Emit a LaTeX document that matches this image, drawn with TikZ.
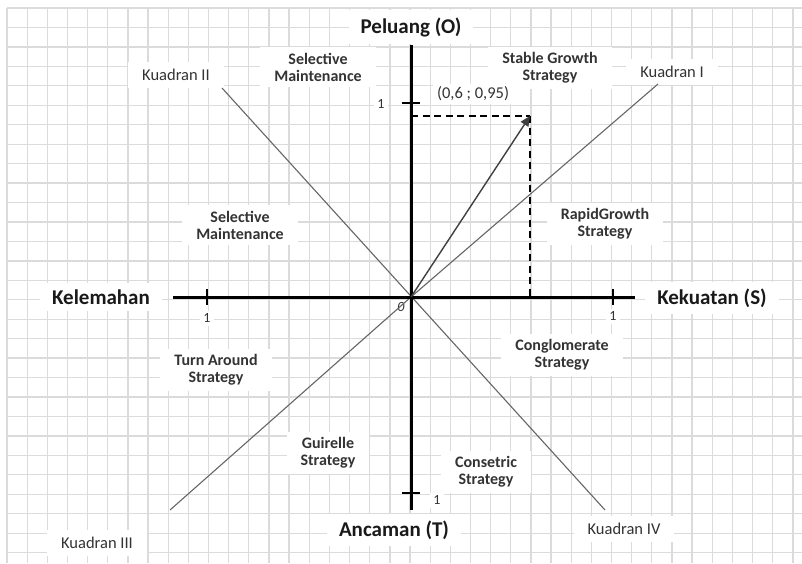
\documentclass[tikz,border=0pt]{standalone}
\usepackage{fontspec}
\setmainfont{Carlito}
\usetikzlibrary{arrows.meta}
\begin{document}
\begin{tikzpicture}[x=1pt,y=-1pt,
  gridline/.style={draw=black!14,line width=1.3pt},
  axisline/.style={draw=black,line width=3pt},
  diagline/.style={draw=black!60,line width=1.1pt},
  dashline/.style={draw=black,line width=2pt,dash pattern=on 7pt off 4.5pt},
  vecline/.style={draw=black!75,line width=1.4pt,-{Triangle[length=10pt,width=9pt]}},
  axislabel/.style={font=\fontsize{21}{23}\selectfont\bfseries,text=black!90,fill=white,inner xsep=12pt,inner ysep=7pt},
  stratlabel/.style={font=\fontsize{16}{17}\selectfont\bfseries,text=black!80,align=center,fill=white,inner xsep=14pt,inner ysep=6pt},
  quadlabel/.style={font=\fontsize{16.5}{18}\selectfont,text=black!80,fill=white,inner xsep=14pt,inner ysep=7pt},
  ticklabel/.style={font=\fontsize{14}{15}\selectfont,text=black!80,fill=white,inner sep=3pt},
  ticks/.style={draw=black,line width=1.8pt}]
\useasboundingbox (0,0) rectangle (802,563);
\fill[white] (0,0) rectangle (802,563);
% grid
\foreach \k in {0,...,39}{\draw[gridline] ({7+20.15*\k},8) -- ({7+20.15*\k},563);}
\foreach \k in {0,...,28}{\draw[gridline] (7,{8+19.45*\k}) -- (802,{8+19.45*\k});}
% coordinates
\coordinate (O) at (411,297);
\coordinate (P) at (530,116);
\coordinate (Ptop) at (411,116);
\coordinate (Pbot) at (530,297);
\coordinate (Atop) at (411,45);
\coordinate (Abot) at (411,510);
\coordinate (Aleft) at (173,297);
\coordinate (Aright) at (635,297);
\coordinate (QIend) at (658,84);
\coordinate (QIIIend) at (170,510);
\coordinate (QIIend) at (222,88);
\coordinate (QIVend) at (605,510);
% labels (white backgrounds)
\node[axislabel] (peluang) at (411,27) {Peluang (O)};
\node[axislabel] (kekuatan) at (712,298) {Kekuatan (S)};
\node[axislabel] (kelemahan) at (101,297) {Kelemahan};
\node[axislabel] (ancaman) at (394,530) {Ancaman (T)};
\node[quadlabel] (q1) at (672,72) {Kuadran I};
\node[quadlabel] (q2) at (176,75) {Kuadran II};
\node[quadlabel] (q3) at (97,543) {Kuadran III};
\node[quadlabel] (q4) at (624,529) {Kuadran IV};
\node[stratlabel] (sm1) at (318,67) {Selective\\Maintenance};
\node[stratlabel] (sm2) at (240,225) {Selective\\Maintenance};
\node[stratlabel] (sg) at (550,68) {Stable Growth\\Strategy};
\node[stratlabel] (rg) at (605,224) {RapidGrowth\\Strategy};
\node[stratlabel] (ta) at (216,370) {Turn Around\\Strategy};
\node[stratlabel] (gs) at (328,453) {Guirelle\\Strategy};
\node[stratlabel] (cg) at (562,355) {Conglomerate\\Strategy};
\node[stratlabel] (cs) at (486,472) {Consetric\\Strategy};
\node[quadlabel,inner xsep=4pt,inner ysep=3pt] (pt) at (473,94) {(0,6 ; 0,95)};
\node[ticklabel] (t1) at (207,318) {1};
\node[ticklabel] (t2) at (613,316) {1};
\node[ticklabel] (t3) at (381,104) {1};
\node[ticklabel] (t4) at (437,500) {1};
\node[font=\fontsize{14}{15}\selectfont\itshape,text=black!80,inner sep=1pt] (zero) at (401,307) {0};
% diagonals
\draw[diagline] (O) -- (QIend);
\draw[diagline] (O) -- (QIIIend);
\draw[diagline] (QIIend) -- (QIVend);
% dashed
\draw[dashline] (Ptop) -- (P);
\draw[dashline] (P) -- (Pbot);
% axes
\draw[axisline] (Atop) -- (Abot);
\draw[axisline] (Aleft) -- (Aright);
% ticks
\draw[ticks] (207,289) -- (207,305);
\draw[ticks] (613,289) -- (613,305);
\draw[ticks] (402,103) -- (420,103);
\draw[ticks] (402,493) -- (420,493);
% vector
\draw[vecline] (O) -- (P);
\end{tikzpicture}
\end{document}
